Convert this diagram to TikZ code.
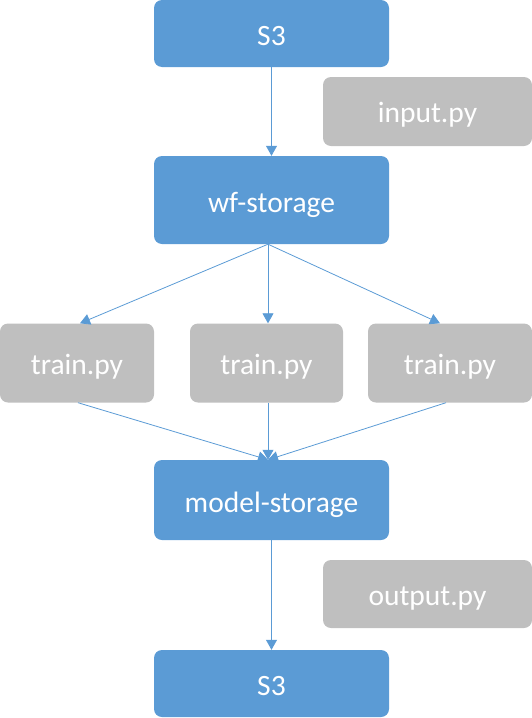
\documentclass[tikz,border=0pt]{standalone}
\usepackage{fontspec}
\setmainfont{Carlito}
\usetikzlibrary{arrows.meta}
\definecolor{storeblue}{HTML}{5B9BD5}
\definecolor{scriptgray}{HTML}{BFBFBF}
\tikzset{
  every store/.style={fill=storeblue, text=white, rounded corners=8pt,
    minimum width=235pt, font=\fontsize{29.5}{34}\selectfont, inner sep=0pt,
    text height=30pt, text depth=6pt},
  every script/.style={fill=scriptgray, text=white, rounded corners=8pt,
    font=\fontsize{29.5}{34}\selectfont, inner sep=0pt,
    text height=28pt, text depth=6pt},
  flow/.style={draw=storeblue, line width=0.8pt, -{Triangle[width=11pt,length=10pt]}}
}
\begin{document}
\begin{tikzpicture}[x=1pt, y=-1pt]
            \useasboundingbox (0,0) rectangle (532,718);

            % storage
            \node [every store, minimum height=67pt] (s3-in) at (271.5,33.5) {S3};
            \node [every store, minimum height=88pt] (wf-storage) at (271.5,200) {wf-storage};
            \node [every store, minimum height=80pt] (model-storage) at (271.5,500) {model-storage};
            \node [every store, minimum height=67pt] (s3-out) at (271.5,683.5) {S3};

            % scripts
            \node [every script, minimum width=209pt, minimum height=69pt] (input) at (427.5,111.5) {input.py};
            \node [every script, minimum width=209pt, minimum height=68pt] (output) at (427.5,594) {output.py};
            \foreach \x/\w [count=\i] in {77/154, 266.5/153, 450/164}
            \node [every script, minimum width=\w pt, minimum height=79pt] (train-\i) at (\x,363) {train.py};

            % flow
            \draw [flow] (s3-in) -- (wf-storage);
            \foreach \dx [count=\i] in {3,1.5,-10}
            \draw [flow] ([xshift=-3.5pt]wf-storage.south) -- ([xshift=\dx pt]train-\i.north);
            \foreach \dx [count=\i] in {1,1.5,-4}
            \draw [flow] ([xshift=\dx pt]train-\i.south) -- ([xshift=-3.5pt]model-storage.north);
            \draw [flow] (model-storage) -- (s3-out);
        \end{tikzpicture}
\end{document}
